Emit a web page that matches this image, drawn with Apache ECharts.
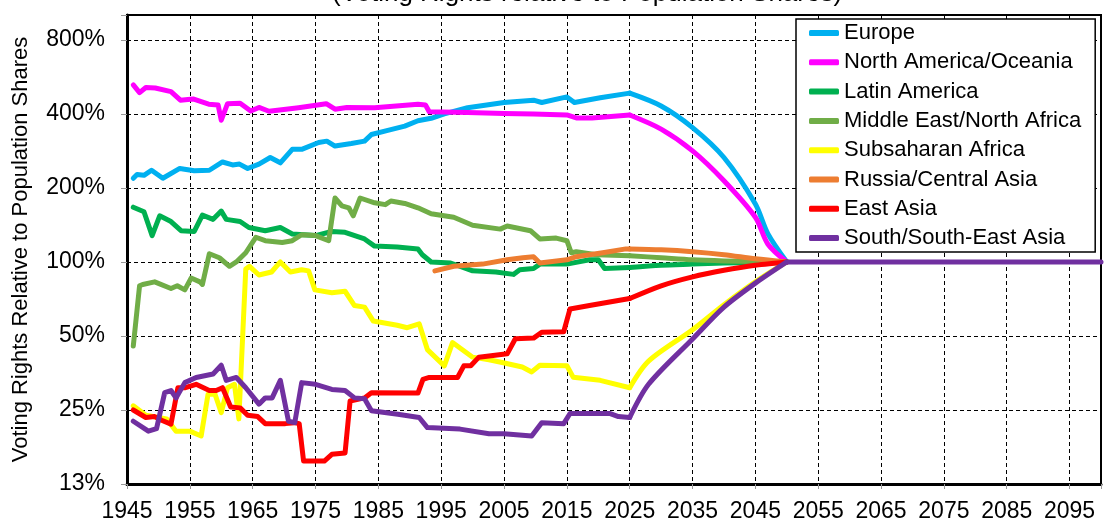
<!DOCTYPE html>
<html>
<head>
<meta charset="utf-8">
<script src="https://cdn.jsdelivr.net/npm/echarts@6/dist/echarts.min.js"></script>
<style>
  html, body { margin: 0; padding: 0; background: #fff; }
  #chart { width: 1104px; height: 525px; }
</style>
</head>
<body>
<div id="chart"></div>
<script>
// values are ratios: 1 = 100% (voting share equal to population share)
const seriesNames = [
  "Europe", "North America/Oceania", "Latin America", "Middle East/North Africa",
  "Subsaharan Africa", "Russia/Central Asia", "East Asia", "South/South-East Asia"
];
const seriesColors = ["#00B0F0", "#FF00FF", "#00B050", "#70AD47", "#FFFF00", "#ED7D31", "#FF0000", "#7030A0"];

// observed part, up to 2025
const europeHist = [[1946,2.19],[1946.6,2.27],[1947.7,2.25],[1948.9,2.36],[1950.7,2.19],[1953.4,2.4],[1955.7,2.35],[1958.1,2.36],[1960.2,2.55],[1961.8,2.48],[1962.9,2.5],[1964.2,2.4],[1966,2.5],[1967.8,2.66],[1969.4,2.53],[1971.3,2.87],[1972.8,2.87],[1975.5,3.06],[1976.8,3.1],[1978.1,2.96],[1980.7,3.03],[1982.8,3.1],[1983.9,3.3],[1986.5,3.43],[1989.2,3.57],[1991.3,3.75],[1993.4,3.84],[1995.5,4.0],[1999.2,4.24],[2005,4.45],[2009.7,4.55],[2011,4.45],[2015,4.69],[2016.2,4.45],[2020.3,4.65],[2025,4.86]];
const northAmHist = [[1946,5.25],[1947,4.88],[1948,5.12],[1949.5,5.1],[1952,4.93],[1953.5,4.55],[1955.5,4.6],[1958,4.38],[1959.5,4.35],[1960,3.77],[1961,4.4],[1963,4.42],[1964.7,4.11],[1966,4.25],[1967.6,4.1],[1972.3,4.24],[1976.7,4.4],[1978.1,4.18],[1980,4.25],[1984.4,4.24],[1991.3,4.38],[1992.5,4.35],[1993.1,4.08],[1999.2,4.05],[2005,4.02],[2009.7,4.0],[2015,3.96],[2016.5,3.85],[2019,3.85],[2025,3.96]];
const latinHist = [[1946,1.67],[1947.7,1.6],[1949,1.28],[1950.2,1.54],[1952,1.46],[1953.6,1.34],[1955.7,1.33],[1957,1.55],[1958.7,1.49],[1960,1.61],[1960.8,1.49],[1963,1.46],[1964.4,1.38],[1967,1.34],[1969.4,1.38],[1971.3,1.3],[1975,1.28],[1977.6,1.33],[1979.7,1.32],[1982.8,1.24],[1984.4,1.16],[1988,1.15],[1991.3,1.13],[1992,1.07],[1993.4,1.0],[1996.5,0.99],[2000,0.92],[2003.7,0.91],[2006.5,0.89],[2007.5,0.93],[2009.7,0.94],[2010.7,0.98],[2015,0.98],[2018.6,1.02],[2020,1.02],[2021,0.94],[2025,0.95]];
const meHist = [[1946,0.455],[1947,0.8],[1947.5,0.81],[1949.4,0.83],[1952,0.78],[1953,0.8],[1954.2,0.77],[1955.2,0.86],[1956.6,0.83],[1957,0.81],[1958.1,1.08],[1959.7,1.04],[1961.3,0.96],[1962.4,1.0],[1963.9,1.09],[1965.5,1.26],[1967,1.22],[1969.7,1.2],[1971.3,1.22],[1972.8,1.29],[1975,1.28],[1977.1,1.22],[1978.1,1.82],[1979.2,1.69],[1980.3,1.66],[1981,1.54],[1982.1,1.82],[1984.4,1.74],[1986.1,1.71],[1987,1.77],[1989.2,1.73],[1991.3,1.66],[1993.4,1.57],[1997,1.52],[2000,1.41],[2004.4,1.36],[2005.5,1.4],[2009.2,1.34],[2010.7,1.24],[2013.3,1.25],[2015,1.22],[2015.7,1.09],[2016.5,1.1],[2019.7,1.07],[2025,1.06]];
const subsaharanHist = [[1946,0.26],[1948,0.238],[1950,0.233],[1951.3,0.23],[1952.8,0.205],[1955,0.205],[1956.8,0.196],[1957.9,0.29],[1959,0.29],[1960,0.244],[1961,0.308],[1962.1,0.318],[1962.8,0.23],[1963.9,0.935],[1964.5,0.96],[1966,0.885],[1968,0.91],[1969.4,1.0],[1971,0.91],[1972.8,0.93],[1973.9,0.92],[1974.9,0.77],[1977.6,0.75],[1979.7,0.76],[1981.2,0.665],[1982.8,0.655],[1984.2,0.575],[1988,0.553],[1989.6,0.54],[1991.5,0.56],[1992.8,0.44],[1995.5,0.378],[1996.8,0.47],[2000,0.41],[2002.6,0.4],[2004.7,0.39],[2007.9,0.374],[2009.4,0.357],[2010.7,0.38],[2015,0.378],[2016,0.34],[2020.3,0.33],[2025,0.308]];
const russiaHist = [[1994,0.92],[1997,0.96],[2001.6,0.98],[2005.5,1.02],[2008,1.04],[2009.7,1.05],[2010.7,0.99],[2015,1.02],[2016.5,1.05],[2020.7,1.09],[2024.4,1.13],[2025,1.13]];
const eastAsiaHist = [[1946,0.25],[1948,0.233],[1949.4,0.235],[1950.5,0.227],[1952,0.219],[1953.1,0.308],[1954.3,0.308],[1956,0.318],[1958.1,0.3],[1959.2,0.3],[1960.2,0.308],[1961.5,0.257],[1963,0.255],[1964.2,0.238],[1965.8,0.235],[1967,0.22],[1970.2,0.22],[1971.6,0.222],[1972.4,0.22],[1973.1,0.155],[1976.4,0.155],[1977.6,0.165],[1979.7,0.167],[1980.5,0.272],[1982.8,0.28],[1983.9,0.294],[1991.3,0.293],[1992.1,0.333],[1993.1,0.339],[1997.6,0.339],[1998.6,0.378],[1999.7,0.378],[2001,0.41],[2005.5,0.423],[2006.8,0.487],[2009.7,0.49],[2011,0.518],[2014.5,0.52],[2015.5,0.644],[2018.6,0.665],[2025,0.71]];
const southAsiaHist = [[1946,0.225],[1948.4,0.205],[1949.7,0.21],[1951,0.294],[1952,0.3],[1952.8,0.28],[1954.2,0.323],[1956,0.339],[1958.7,0.35],[1960,0.38],[1960.8,0.33],[1962.4,0.339],[1963.9,0.308],[1966,0.264],[1967,0.28],[1968.1,0.28],[1969.4,0.33],[1970.7,0.225],[1971.7,0.222],[1972.8,0.323],[1975,0.318],[1977.6,0.303],[1979.7,0.3],[1981.2,0.28],[1982.8,0.278],[1983.9,0.248],[1988.1,0.24],[1991.5,0.233],[1992.8,0.212],[1998,0.209],[2002.6,0.2],[2005,0.2],[2009.4,0.196],[2011,0.222],[2014.5,0.22],[2015.5,0.242],[2021.8,0.242],[2023.2,0.235],[2025,0.233]];

// projected part, 2025 -> 2050 (all reach 100% in 2050)
const europeProj = [[2025,4.86],[2030,4.31],[2035,3.52],[2040,2.66],[2045,1.72],[2047,1.3],[2050,1]];
const northAmProj = [[2025,3.96],[2030,3.47],[2035,2.83],[2040,2.14],[2045,1.52],[2047,1.18],[2050,1]];
const latinProj = [[2025,0.95],[2030,0.97],[2035,0.98],[2040,0.99],[2045,0.995],[2050,1]];
const meProj = [[2025,1.06],[2030,1.04],[2035,1.02],[2040,1.01],[2045,1.005],[2050,1]];
const subsaharanProj = [[2025,0.308],[2028,0.395],[2035,0.53],[2040,0.67],[2045,0.83],[2050,1]];
const russiaProj = [[2025,1.13],[2030,1.12],[2035,1.1],[2040,1.07],[2045,1.03],[2050,1]];
const eastAsiaProj = [[2025,0.71],[2030,0.8],[2035,0.87],[2040,0.925],[2045,0.97],[2050,1]];
const southAsiaProj = [[2025,0.233],[2028,0.318],[2035,0.486],[2040,0.655],[2045,0.82],[2050,1]];
// after 2050 every region sits at 100% (the purple line is drawn on top)
const flatAfter2050 = [[2050,1],[2100,1]];

const histData = [europeHist, northAmHist, latinHist, meHist, subsaharanHist, russiaHist, eastAsiaHist, southAsiaHist];
const projData = [europeProj, northAmProj, latinProj, meProj, subsaharanProj, russiaProj, eastAsiaProj, southAsiaProj];

const FONT = "Liberation Sans, Arial, sans-serif";

const chart = echarts.init(document.getElementById("chart"));

const series = [];
seriesNames.forEach((name, i) => {
  const lineStyle = { color: seriesColors[i], width: 5, cap: "round", join: "round" };
  series.push({
    name: name, type: "line", data: histData[i], showSymbol: false, symbol: "none",
    lineStyle: lineStyle, itemStyle: { color: seriesColors[i] }, z: 2 + i
  });
  series.push({
    name: name, type: "line", data: projData[i], showSymbol: false, symbol: "none",
    smooth: 0.3,
    lineStyle: lineStyle, itemStyle: { color: seriesColors[i] }, z: 2 + i
  });
  if (i === seriesNames.length - 1) {
    series.push({
      name: name, type: "line", data: flatAfter2050, showSymbol: false, symbol: "none",
      lineStyle: lineStyle, itemStyle: { color: seriesColors[i] }, z: 2 + i
    });
  }
});

const option = {
  animation: false,
  title: {
    text: "(Voting Rights relative to Population Shares)",
    left: 582,
    top: -24,
    textAlign: "center",
    textStyle: { fontFamily: FONT, fontSize: 26, fontWeight: "normal", color: "#000" }
  },
  grid: {
    left: 127, width: 981, top: 15, bottom: 41,
    show: true, borderColor: "#000", borderWidth: 2, backgroundColor: "#fff"
  },
  legend: {
    data: seriesNames,
    orient: "vertical",
    left: 796,
    top: 19,
    padding: [3, 14, 3, 13],
    itemGap: 7.3,
    itemWidth: 30,
    itemHeight: 6,
    icon: "roundRect",
    backgroundColor: "#fff",
    borderColor: "#000",
    borderWidth: 1.5,
    textStyle: { fontFamily: FONT, fontSize: 22, color: "#000" }
  },
  xAxis: {
    type: "value",
    min: 1945,
    max: 2100,
    interval: 10,
    axisLine: { show: true, onZero: false, lineStyle: { color: "#000", width: 3 } },
    axisTick: { show: true, length: 5, lineStyle: { color: "#999" } },
    axisLabel: {
      fontFamily: FONT, fontSize: 23, color: "#000", margin: 16,
      formatter: (v) => (v % 10 === 5 ? String(v) : "")
    },
    splitLine: { show: true, lineStyle: { color: "#000", type: [4, 3], width: 1 } }
  },
  yAxis: {
    type: "log",
    logBase: 2,
    min: 0.125,
    max: 10.1,
    name: "Voting Rights Relative to Population Shares",
    nameLocation: "middle",
    nameRotate: 90,
    nameGap: 95,
    nameTextStyle: { fontFamily: FONT, fontSize: 22, color: "#000" },
    axisLine: { show: true, lineStyle: { color: "#000", width: 3 } },
    axisTick: { show: true, length: 6, lineStyle: { color: "#999" } },
    axisLabel: {
      fontFamily: FONT, fontSize: 23, color: "#000", margin: 22,
      formatter: (v) => {
        const l = Math.log2(v);
        if (Math.abs(l - Math.round(l)) > 0.01) return "";
        return Math.round(v * 100) + "%";
      }
    },
    splitLine: { show: true, lineStyle: { color: "#000", type: [4, 3], width: 1 } }
  },
  series: series
};

chart.setOption(option);
</script>
</body>
</html>
